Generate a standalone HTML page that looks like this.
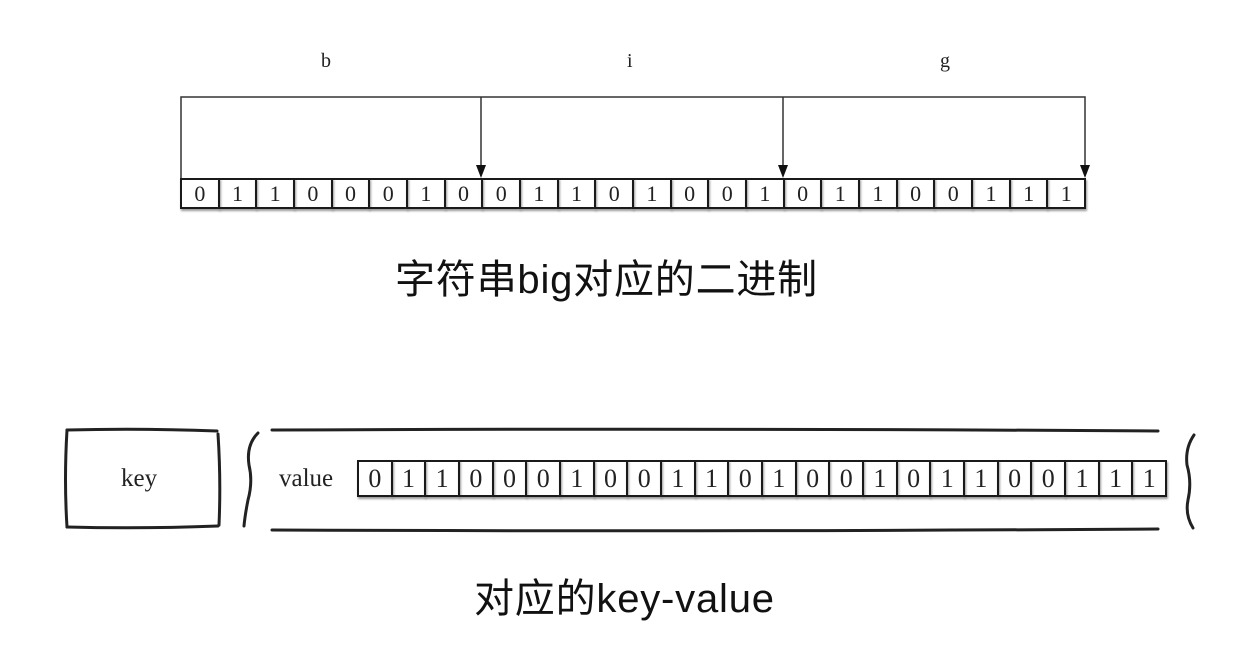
<!DOCTYPE html>
<html><head><meta charset="utf-8"><style>
body{margin:0;width:1240px;height:646px;background:#fff;position:relative;overflow:hidden;font-family:"Liberation Serif",serif;}
.row{position:absolute;display:flex;}
.row div{flex:1;border:2.5px solid #1a1a1a;margin-right:-2px;box-sizing:border-box;display:flex;align-items:center;justify-content:center;color:#222;box-shadow:1px 2px 2px #999;}
.t{position:absolute;font-family:"Liberation Sans","Noto Sans CJK SC",sans-serif;color:#111;white-space:nowrap;}
.l{position:absolute;font-size:20px;color:#222;}
</style></head><body>
<svg width="1240" height="646" style="position:absolute;left:0;top:0">
<g stroke="#333" stroke-width="1.5" fill="none">
<polyline points="181,178 181,97 1085,97 1085,170"/>
<line x1="481" y1="97" x2="481" y2="170"/>
<line x1="783" y1="97" x2="783" y2="170"/>
</g>
<g fill="#111">
<polygon points="476,165 486,165 481,178"/>
<polygon points="778,165 788,165 783,178"/>
<polygon points="1080,165 1090,165 1085,178"/>
</g>
<g stroke="#222" stroke-width="3" fill="none" stroke-linecap="round">
<path d="M67,430 Q140,428 217,431"/>
<path d="M67,430 Q64,480 67,527"/>
<path d="M67,527 Q140,529 218,526"/>
<path d="M218,434 Q221,480 219,525"/>
<path d="M258,433 Q246,445 249,465 Q253,482 248,500 Q245,515 244,526"/>
<path d="M272,430 Q700,428 1158,431"/>
<path d="M272,530 Q700,532 1158,529"/>
<path d="M1194,435 Q1185,448 1187,465 Q1192,482 1188,500 Q1185,515 1193,528"/>
</g>
</svg>
<div class="l" style="left:321px;top:50px">b</div>
<div class="l" style="left:627px;top:50px">i</div>
<div class="l" style="left:940px;top:50px">g</div>
<div class="row" style="left:180px;top:178px;width:904px;height:31px;font-size:22px">
<div>0</div><div>1</div><div>1</div><div>0</div><div>0</div><div>0</div><div>1</div><div>0</div>
<div>0</div><div>1</div><div>1</div><div>0</div><div>1</div><div>0</div><div>0</div><div>1</div>
<div>0</div><div>1</div><div>1</div><div>0</div><div>0</div><div>1</div><div>1</div><div>1</div>
</div>
<div class="t" style="left:395px;top:247px;font-size:40px;letter-spacing:0.8px">字符串big对应的二进制</div>
<div class="l" style="left:121px;top:465px;font-size:25px">key</div>
<div class="l" style="left:279px;top:465px;font-size:25px">value</div>
<div class="row" style="left:357px;top:460px;width:808px;height:37px;font-size:26px">
<div>0</div><div>1</div><div>1</div><div>0</div><div>0</div><div>0</div><div>1</div><div>0</div>
<div>0</div><div>1</div><div>1</div><div>0</div><div>1</div><div>0</div><div>0</div><div>1</div>
<div>0</div><div>1</div><div>1</div><div>0</div><div>0</div><div>1</div><div>1</div><div>1</div>
</div>
<div class="t" style="left:474px;top:566px;font-size:40px;letter-spacing:0.8px">对应的key-value</div>
</body></html>
